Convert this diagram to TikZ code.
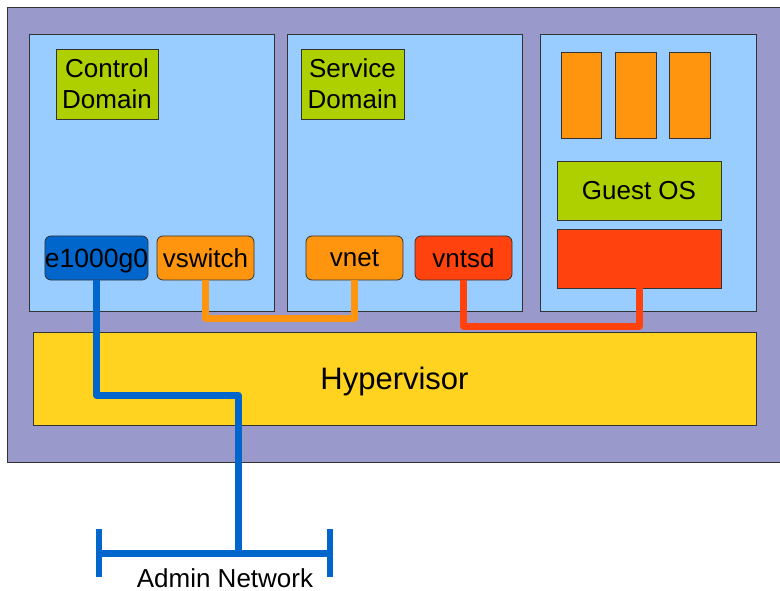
\documentclass[tikz,border=0pt]{standalone}
\usepackage{fontspec}
\setmainfont{Liberation Sans}
\definecolor{outerc}{HTML}{9999CC}
\definecolor{panelc}{HTML}{99CCFF}
\definecolor{greenc}{HTML}{AECF00}
\definecolor{orangec}{HTML}{FF950E}
\definecolor{redc}{HTML}{FF420E}
\definecolor{yellowc}{HTML}{FFD320}
\definecolor{bluec}{HTML}{0066CC}
\definecolor{edgec}{HTML}{333333}
\begin{document}
\begin{tikzpicture}[x=1pt,y=-1pt,
  box/.style={draw=edgec, line width=0.8pt, inner sep=0pt, outer sep=0pt,
    font=\fontsize{26}{31}\selectfont, align=center, text depth=0pt},
  chip/.style={box, rounded corners=6pt, minimum width=97pt, minimum height=44pt},
  wire/.style={line width=7pt, line join=round},
]
\useasboundingbox (0,0) rectangle (780,591);
% frame (right edge runs off the page)
\node[fill=outerc, inner sep=0pt, outer sep=0pt, minimum width=790pt, minimum height=455pt] (outer) at (402,234.5) {};
\draw[edgec, line width=0.8pt] (outer.north east) -- (outer.north west) -- (outer.south west) -- (outer.south east);
% domains
\node[box, fill=panelc, minimum width=245pt, minimum height=277pt] (panelA) at (151.5,172.5) {};
\node[box, fill=panelc, minimum width=235pt, minimum height=277pt] (panelB) at (404.5,172.5) {};
\node[box, fill=panelc, minimum width=216pt, minimum height=277pt] (panelC) at (648,172.5) {};
% hypervisor
\node[box, fill=yellowc, minimum width=723pt, minimum height=93pt,
  font=\fontsize{31}{36}\selectfont] (hyp) at (394.5,378.5) {Hypervisor};
% labels
\node[box, fill=greenc, minimum width=102pt, minimum height=70pt] (ctrl) at (107,84) {Control\\Domain};
\node[box, fill=greenc, minimum width=103pt, minimum height=70pt] (serv) at (352.5,84) {Service\\Domain};
% chips
\node[chip, fill=bluec, font=\fontsize{26.5}{31}\selectfont] (e1000) at (96.5,258) {e1000g0};
\node[chip, fill=orangec] (vswitch) at (205.5,258) {vswitch};
\node[chip, fill=orangec] (vnet) at (354.5,258) {vnet};
\node[chip, fill=redc] (vntsd) at (463.5,258) {vntsd};
% guest
\node[box, fill=orangec, minimum width=40pt, minimum height=86pt] (appA) at (581,95) {};
\node[box, fill=orangec, minimum width=41pt, minimum height=86pt] (appB) at (635.5,95) {};
\node[box, fill=orangec, minimum width=41pt, minimum height=86pt] (appC) at (689.5,95) {};
\node[box, fill=greenc, minimum width=164pt, minimum height=59pt] (guest) at (639,190.5) {Guest OS};
\node[box, fill=redc, minimum width=164pt, minimum height=59pt] (cons) at (639,258.5) {};
% network
\coordinate (netL) at (99,553);
\coordinate (netR) at (330,553);
\coordinate (tap) at (238,553);
\draw[bluec, line width=7pt] (netL) -- (netR);
\draw[bluec, line width=6pt] ([yshift=-24pt]netL) -- ([yshift=24pt]netL);
\draw[bluec, line width=6pt] ([yshift=-24pt]netR) -- ([yshift=24pt]netR);
\node[font=\fontsize{26}{30}\selectfont, anchor=base, inner sep=0pt] (adminlbl) at (225,587) {Admin Network};
% wires
\coordinate (oY) at (0,318);
\coordinate (rY) at (0,326);
\coordinate (bY) at (0,395);
\draw[wire, orangec] (vswitch.south) -- (vswitch.south |- oY) -| (vnet.south);
\draw[wire, redc] (vntsd.south) -- (vntsd.south |- rY) -| (cons.south);
\draw[wire, bluec] (e1000.south) -- (e1000.south |- bY) -| (tap);
\end{tikzpicture}
\end{document}
